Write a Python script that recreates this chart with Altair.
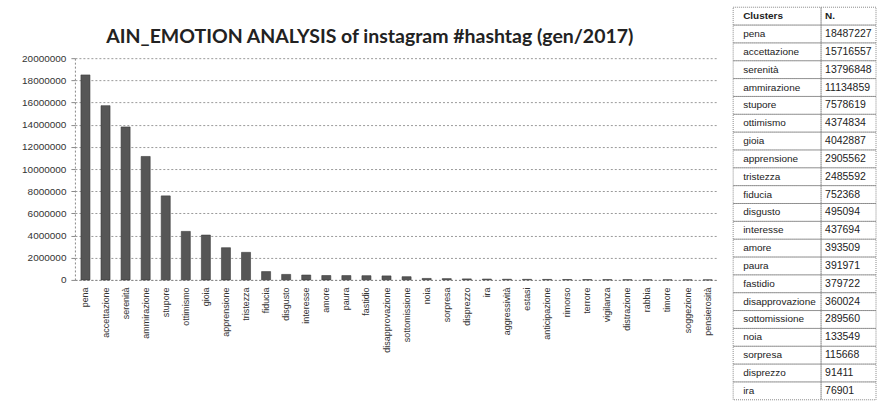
import altair as alt
import pandas as pd

# ---------------- data ----------------
categories = [
    "pena", "accettazione", "serenità", "ammirazione", "stupore", "ottimismo",
    "gioia", "apprensione", "tristezza", "fiducia", "disgusto", "interesse",
    "amore", "paura", "fastidio", "disapprovazione", "sottomissione", "noia",
    "sorpresa", "disprezzo", "ira", "aggressività", "estasi", "anticipazione",
    "rimorso", "terrore", "vigilanza", "distrazione", "rabbia", "timore",
    "soggezione", "pensierosità",
]
counts = [
    18487227, 15716557, 13796848, 11134859, 7578619, 4374834,
    4042887, 2905562, 2485592, 752368, 495094, 437694,
    393509, 391971, 379722, 360024, 289560, 133549,
    115668, 91411, 76901, 60000, 52000, 45000,
    38000, 31000, 25000, 20000, 15000, 11000,
    8000, 5000,
]
y_ticks = [0, 2000000, 4000000, 6000000, 8000000, 10000000,
           12000000, 14000000, 16000000, 18000000, 20000000]
table_header = ["Clusters", "N."]
table_len = 21
title_text = "AIN_EMOTION ANALYSIS of instagram #hashtag (gen/2017)"

# ---------------- bar chart ----------------
df = pd.DataFrame({"cluster": categories, "n": counts})

bars = alt.Chart(df).mark_bar(color="#565656", stroke="#3a3a3a", strokeWidth=0.6).encode(
    x=alt.X(
        "cluster:N", sort=categories,
        scale=alt.Scale(paddingInner=0.55, paddingOuter=0.3),
        axis=alt.Axis(
            title=None, labelAngle=-90, labelFontSize=9, labelFont="Liberation Sans",
            labelColor="#333333", labelPadding=7, ticks=False,
            domainColor="#8a8a8a", domainDash=[2, 2],
        ),
    ),
    y=alt.Y(
        "n:Q", scale=alt.Scale(domain=[0, 20000000]),
        axis=alt.Axis(
            title=None, values=y_ticks, format="d", labelFontSize=10,
            labelFont="Liberation Sans", labelColor="#333333", labelPadding=5,
            grid=True, gridDash=[2, 2], gridColor="#9a9a9a", gridWidth=1,
            domainColor="#8a8a8a", domainDash=[2, 2], tickSize=4, tickColor="#8a8a8a",
        ),
    ),
).properties(
    width=644, height=222,
    title=alt.TitleParams(
        text=["", title_text], fontSize=19.5, font="Lato", fontWeight="bold",
        color="#222222", anchor="middle", frame="bounds", lineHeight=20, offset=6,
    ),
)

# ---------------- table ----------------
names = [table_header[0]] + categories[:table_len]
vals = [table_header[1]] + [str(v) for v in counts[:table_len]]
tdf = pd.DataFrame({"row": list(range(len(names))), "name": names, "val": vals})

# the table starts above the bar plot (level with the title)
yscale = alt.Scale(paddingInner=0, paddingOuter=0, domain=list(range(len(names))),
                   range=[-51, 342])
yrow = alt.Y("row:O", axis=None, scale=yscale)
cell_style = dict(filled=False, stroke="#8a8a8a", strokeDash=[1, 1], strokeWidth=1)

t_cells_a = alt.Chart(tdf).mark_rect(**cell_style).encode(
    x=alt.value(6), x2=alt.value(94), y=yrow
)
t_cells_b = alt.Chart(tdf).mark_rect(**cell_style).encode(
    x=alt.value(94), x2=alt.value(149), y=yrow
)

t_head_n = alt.Chart(tdf).transform_filter("datum.row == 0").mark_text(
    align="left", baseline="middle", fontSize=10, font="Liberation Sans", color="#222222",
    fontWeight="bold",
).encode(x=alt.value(16), y=yrow, text="name:N")
t_head_v = alt.Chart(tdf).transform_filter("datum.row == 0").mark_text(
    align="left", baseline="middle", fontSize=10, font="Liberation Sans", color="#222222",
    fontWeight="bold",
).encode(x=alt.value(98), y=yrow, text="val:N")

t_names = alt.Chart(tdf).transform_filter("datum.row > 0").mark_text(
    align="left", baseline="middle", fontSize=10, font="Liberation Sans", color="#222222"
).encode(x=alt.value(16), y=yrow, text="name:N")

t_vals = alt.Chart(tdf).transform_filter("datum.row > 0").mark_text(
    align="left", baseline="middle", fontSize=10.5, font="Liberation Sans", color="#222222",
).encode(x=alt.value(98), y=yrow, text="val:N")

table = alt.layer(t_cells_a, t_cells_b, t_head_n, t_head_v, t_names, t_vals).properties(
    width=148, height=342
)

chart = alt.hconcat(bars, table, spacing=9).properties(
    padding={"left": 21, "top": 6, "right": 0, "bottom": 0},
    background="white",
).configure_view(stroke=None)

chart.save("out.html", embed_options={"renderer": "svg", "actions": False})
